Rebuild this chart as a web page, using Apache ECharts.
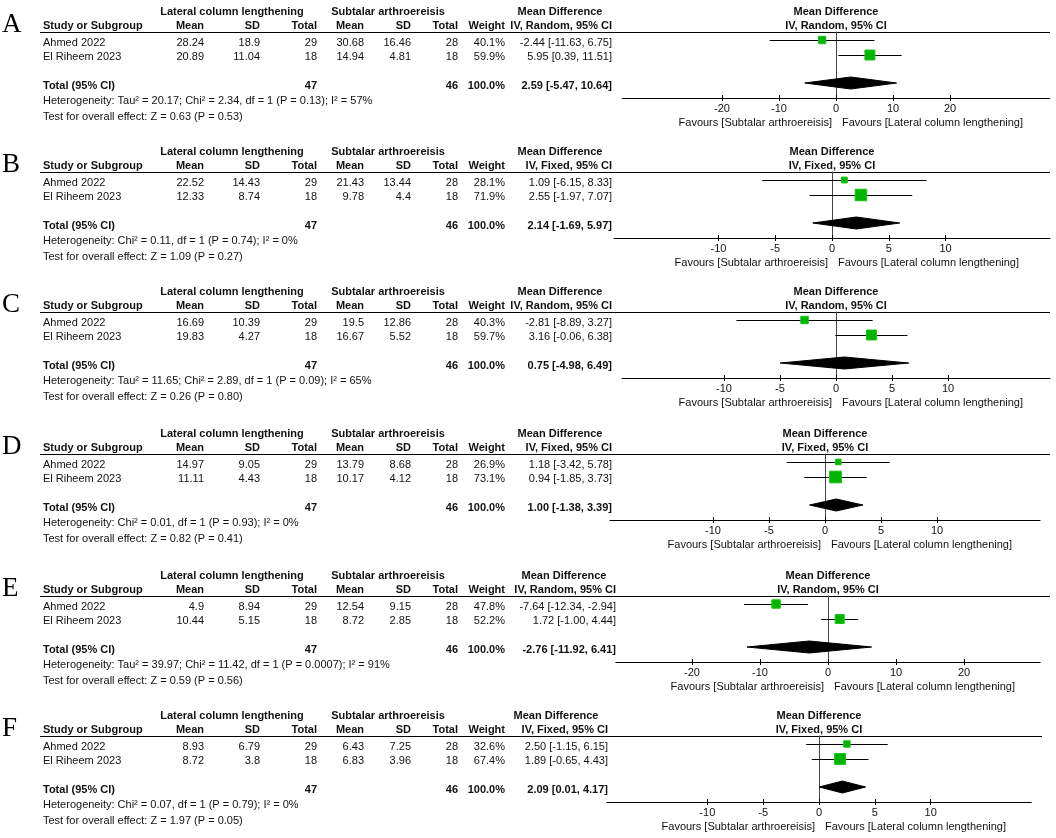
<!DOCTYPE html>
<html><head><meta charset="utf-8">
<script src="https://cdn.jsdelivr.net/npm/echarts@6/dist/echarts.min.js"></script>
<style>html,body{margin:0;padding:0;background:#fff}#c{width:1056px;height:838px}</style>
</head><body><div id="c"></div>
<script>
// ---------------- data ----------------
const panelLetters = ['A', 'B', 'C', 'D', 'E', 'F'];
const studies = ['Ahmed 2022', 'El Riheem 2023'];
const methodNames = ['IV, Random, 95% CI', 'IV, Fixed, 95% CI', 'IV, Random, 95% CI', 'IV, Fixed, 95% CI', 'IV, Random, 95% CI', 'IV, Fixed, 95% CI'];
const lclMean = [[28.24, 20.89], [22.52, 12.33], [16.69, 19.83], [14.97, 11.11], [4.9, 10.44], [8.93, 8.72]];
const lclSD = [[18.9, 11.04], [14.43, 8.74], [10.39, 4.27], [9.05, 4.43], [8.94, 5.15], [6.79, 3.8]];
const lclTotal = [29, 18];
const lclSum = 47;
const staMean = [[30.68, 14.94], [21.43, 9.78], [19.5, 16.67], [13.79, 10.17], [12.54, 8.72], [6.43, 6.83]];
const staSD = [[16.46, 4.81], [13.44, 4.4], [12.86, 5.52], [8.68, 4.12], [9.15, 2.85], [7.25, 3.96]];
const staTotal = [28, 18];
const staSum = 46;
const weights = [[40.1, 59.9], [28.1, 71.9], [40.3, 59.7], [26.9, 73.1], [47.8, 52.2], [32.6, 67.4]];
const meanDiff = [[-2.44, 5.95], [1.09, 2.55], [-2.81, 3.16], [1.18, 0.94], [-7.64, 1.72], [2.50, 1.89]];
const ciLow = [[-11.63, 0.39], [-6.15, -1.97], [-8.89, -0.06], [-3.42, -1.85], [-12.34, -1.00], [-1.15, -0.65]];
const ciHigh = [[6.75, 11.51], [8.33, 7.07], [3.27, 6.38], [5.78, 3.73], [-2.94, 4.44], [6.15, 4.43]];
const pooledMD = [2.59, 2.14, 0.75, 1.00, -2.76, 2.09];
const pooledLow = [-5.47, -1.69, -4.98, -1.38, -11.92, 0.01];
const pooledHigh = [10.64, 5.97, 6.49, 3.39, 6.41, 4.17];
const heterogeneity = [
  'Heterogeneity: Tau\u00b2 = 20.17; Chi\u00b2 = 2.34, df = 1 (P = 0.13); I\u00b2 = 57%',
  'Heterogeneity: Chi\u00b2 = 0.11, df = 1 (P = 0.74); I\u00b2 = 0%',
  'Heterogeneity: Tau\u00b2 = 11.65; Chi\u00b2 = 2.89, df = 1 (P = 0.09); I\u00b2 = 65%',
  'Heterogeneity: Chi\u00b2 = 0.01, df = 1 (P = 0.93); I\u00b2 = 0%',
  'Heterogeneity: Tau\u00b2 = 39.97; Chi\u00b2 = 11.42, df = 1 (P = 0.0007); I\u00b2 = 91%',
  'Heterogeneity: Chi\u00b2 = 0.07, df = 1 (P = 0.79); I\u00b2 = 0%'
];
const overallEffect = [
  'Test for overall effect: Z = 0.63 (P = 0.53)',
  'Test for overall effect: Z = 1.09 (P = 0.27)',
  'Test for overall effect: Z = 0.26 (P = 0.80)',
  'Test for overall effect: Z = 0.82 (P = 0.41)',
  'Test for overall effect: Z = 0.59 (P = 0.56)',
  'Test for overall effect: Z = 1.97 (P = 0.05)'
];
const tickValues = [[-20, -10, 0, 10, 20], [-10, -5, 0, 5, 10], [-10, -5, 0, 5, 10], [-10, -5, 0, 5, 10], [-20, -10, 0, 10, 20], [-10, -5, 0, 5, 10]];
const favourLeft = 'Favours [Subtalar arthroereisis]';
const favourRight = 'Favours [Lateral column lengthening]';

// ---------------- layout ----------------
const ruleY = [32, 172, 312, 454, 596, 736];
const zeroX = [836, 832, 836, 825, 828, 819];
const pxPerUnit = [5.7, 11.35, 11.2, 11.2, 6.8, 11.17];
const halfRange = [37.5, 19.2, 19.1, 19.2, 31.2, 19.0];
const ciRight = [612, 612, 612, 612, 616, 608];
const ruleRight = [1050, 1050, 1050, 1050, 1050, 1042];
const colRight = [204, 260, 317, 364, 411, 458, 505];
const PLOT_H = 66, ROWS_MAX = 4.4;
const FONT = '"Liberation Sans", Arial, sans-serif';
const F11 = '11px ' + FONT, B11 = 'bold 11px ' + FONT;
const INK = '#111';
const GREEN = '#00b400';

function sq(w) { return 2.2 + 0.13 * w; }

function renderStudy(params, api) {
  const y = api.value(4);
  const a = api.coord([api.value(1), y]);
  const b = api.coord([api.value(2), y]);
  const c = api.coord([api.value(0), y]);
  const s = sq(api.value(3));
  return { type: 'group', children: [
    { type: 'line', shape: { x1: a[0], y1: Math.round(a[1]) + 0.5, x2: b[0], y2: Math.round(b[1]) + 0.5 }, style: { stroke: '#000', lineWidth: 1 } },
    { type: 'rect', shape: { x: c[0] - s / 2, y: c[1] - s / 2 + 0.5, width: s, height: s }, style: { fill: GREEN, stroke: '#19c419', lineWidth: 1 } }
  ] };
}
function renderDiamond(params, api) {
  const y = api.value(3);
  const a = api.coord([api.value(1), y]);
  const b = api.coord([api.value(2), y]);
  const c = api.coord([api.value(0), y]);
  const h = 6;
  return { type: 'polygon', shape: { points: [[a[0], a[1]], [c[0], c[1] - h], [b[0], b[1]], [c[0], c[1] + h]] }, style: { fill: '#000', stroke: '#000' } };
}

const chart = echarts.init(document.getElementById('c'));
const grids = [], xAxes = [], yAxes = [], series = [];
for (let p = 0; p < 6; p++) {
  const left = zeroX[p] - halfRange[p] * pxPerUnit[p];
  const width = 2 * halfRange[p] * pxPerUnit[p];
  grids.push({ left: left, top: ruleY[p], width: width, height: PLOT_H });
  yAxes.push({ type: 'value', gridIndex: p, min: 0, max: ROWS_MAX, inverse: true,
    axisLine: { show: true, onZero: true, lineStyle: { color: '#444', width: 1 } },
    axisTick: { show: false }, axisLabel: { show: false }, splitLine: { show: false } });
  series.push({ type: 'custom', xAxisIndex: p, yAxisIndex: p, renderItem: renderStudy, silent: true,
    data: studies.map((s, i) => [meanDiff[p][i], ciLow[p][i], ciHigh[p][i], weights[p][i], i + 0.5]) });
  series.push({ type: 'custom', xAxisIndex: p, yAxisIndex: p, renderItem: renderDiamond, silent: true,
    data: [[pooledMD[p], pooledLow[p], pooledHigh[p], 3.4]] });
}
for (let p = 0; p < 6; p++) {
  xAxes.push({ type: 'value', gridIndex: p, position: 'bottom', min: -halfRange[p], max: halfRange[p],
    axisLine: { onZero: false, lineStyle: { color: '#000', width: 1 } },
    axisTick: { show: true, customValues: tickValues[p], length: 3, lineStyle: { color: '#000' } },
    axisLabel: { customValues: tickValues[p], fontSize: 11, color: INK, fontFamily: FONT, margin: 5 },
    splitLine: { show: false } });
}
// overlay axes giving the upward half of each tick mark
for (let p = 0; p < 6; p++) {
  xAxes.push({ type: 'value', gridIndex: p, position: 'bottom', min: -halfRange[p], max: halfRange[p],
    axisLine: { show: false, onZero: false },
    axisTick: { show: true, inside: true, customValues: tickValues[p], length: 3, lineStyle: { color: '#000' } },
    axisLabel: { show: false }, splitLine: { show: false } });
}
chart.setOption({ animation: false, grid: grids, xAxis: xAxes, yAxis: yAxes, series: series });

function txt(x, y, text, font, align) {
  return { type: 'text', x: x, y: y, silent: true,
    style: { text: text, font: font, fill: INK, align: align || 'left', verticalAlign: 'middle', textAlign: align || 'left', textVerticalAlign: 'middle' } };
}
const fmt = v => v.toFixed(2);
const ci = (m, l, h) => fmt(m) + ' [' + fmt(l) + ', ' + fmt(h) + ']';

const g = [];
for (let p = 0; p < 6; p++) {
  const y0 = ruleY[p];
  const z = chart.convertToPixel({ xAxisIndex: p }, 0);
  g.push({ type: 'text', x: 2, y: y0 - 7, silent: true, style: { text: panelLetters[p], font: '27px "Liberation Serif", "Times New Roman", serif', fill: '#000', align: 'left', verticalAlign: 'middle', textAlign: 'left', textVerticalAlign: 'middle' } });
  g.push({ type: 'line', silent: true, shape: { x1: 40, y1: y0 + 0.5, x2: ruleRight[p], y2: y0 + 0.5 }, style: { stroke: '#000', lineWidth: 1 } });
  // header line 1
  g.push(txt(232, y0 - 20, 'Lateral column lengthening', B11, 'center'));
  g.push(txt(388, y0 - 20, 'Subtalar arthroereisis', B11, 'center'));
  g.push(txt(ciRight[p] - 52, y0 - 20, 'Mean Difference', B11, 'center'));
  // header line 2
  g.push(txt(43, y0 - 6, 'Study or Subgroup', B11, 'left'));
  ['Mean', 'SD', 'Total', 'Mean', 'SD', 'Total', 'Weight'].forEach((h, k) => g.push(txt(colRight[k], y0 - 6, h, B11, 'right')));
  g.push(txt(ciRight[p], y0 - 6, methodNames[p], B11, 'right'));
  // study rows
  studies.forEach((s, i) => {
    const yy = y0 + 10.5 + i * 14.5;
    g.push(txt(43, yy, s, F11, 'left'));
    const vals = [String(lclMean[p][i]), String(lclSD[p][i]), String(lclTotal[i]), String(staMean[p][i]), String(staSD[p][i]), String(staTotal[i]), weights[p][i].toFixed(1) + '%'];
    vals.forEach((v, k) => g.push(txt(colRight[k], yy, v, F11, 'right')));
    g.push(txt(ciRight[p], yy, ci(meanDiff[p][i], ciLow[p][i], ciHigh[p][i]), F11, 'right'));
  });
  // total row
  const yt = y0 + 54;
  g.push(txt(43, yt, 'Total (95% CI)', B11, 'left'));
  g.push(txt(colRight[2], yt, String(lclSum), B11, 'right'));
  g.push(txt(colRight[5], yt, String(staSum), B11, 'right'));
  g.push(txt(colRight[6], yt, '100.0%', B11, 'right'));
  g.push(txt(ciRight[p], yt, ci(pooledMD[p], pooledLow[p], pooledHigh[p]), B11, 'right'));
  g.push(txt(43, y0 + 69, heterogeneity[p], F11, 'left'));
  g.push(txt(43, y0 + 85, overallEffect[p], F11, 'left'));
  // plot headers and favours
  g.push(txt(z, y0 - 20, 'Mean Difference', B11, 'center'));
  g.push(txt(z, y0 - 6, methodNames[p], B11, 'center'));
  g.push(txt(z - 4, y0 + 91, favourLeft, F11, 'right'));
  g.push(txt(z + 6, y0 + 91, favourRight, F11, 'left'));
}
chart.setOption({ graphic: { elements: g } });
</script>
</body></html>
